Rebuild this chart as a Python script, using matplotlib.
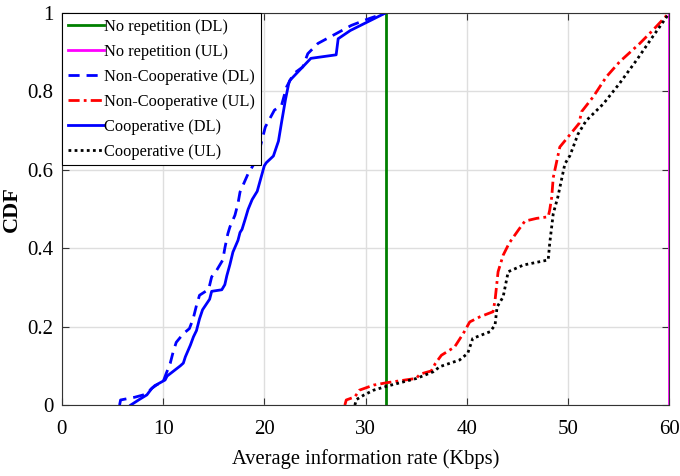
import numpy as np
import matplotlib
matplotlib.use("Agg")
import matplotlib.pyplot as plt

plt.rcParams['font.family'] = ['Liberation Serif', 'DejaVu Serif']

# no repetition: fixed rates
norep_dl_x = [32, 32]
norep_ul_x = [60, 60]
norep_y = [0, 1]

# non-cooperative DL
noncoop_dl_x = [5.7, 5.8, 6.2, 7.2, 8.2, 8.7, 9.2, 10.0, 10.3, 10.7, 11.0, 11.3, 12.0, 12.6,
                12.97, 13.3, 13.6, 14.5, 14.8, 15.3, 15.9, 16.1, 16.4, 16.6, 17.1, 17.4,
                17.6, 18.4, 19.2, 19.6, 20.1, 21.0, 21.7, 22.2, 22.9, 23.8, 24.3, 25.3,
                27.1, 28.6, 30.1, 32.0]
noncoop_dl_y = [0.0, 0.013, 0.015, 0.02, 0.027, 0.038, 0.05, 0.059, 0.08, 0.106, 0.136, 0.16,
                0.182, 0.195, 0.22, 0.254, 0.28, 0.295, 0.327, 0.344, 0.37, 0.40, 0.437,
                0.454, 0.484, 0.514, 0.543, 0.59, 0.624, 0.658, 0.709, 0.752, 0.764, 0.811,
                0.845, 0.862, 0.896, 0.922, 0.947, 0.968, 0.983, 1.0]

# cooperative DL
coop_dl_x = [6.8, 7.7, 8.4, 8.9, 9.5, 10.2, 10.4, 11.7, 12.0, 12.2, 12.7, 13.0, 13.3, 13.6,
             13.9, 14.6, 14.8, 15.8, 16.1, 16.3, 16.6, 16.9, 17.4, 17.6, 17.8, 18.1, 18.4,
             18.8, 19.3, 20.0, 20.2, 20.9, 21.4, 21.7, 22.1, 22.4, 22.5, 24.6, 27.1, 27.3,
             28.5, 32.0]
coop_dl_y = [0.0, 0.015, 0.026, 0.043, 0.054, 0.064, 0.074, 0.10, 0.107, 0.123, 0.153, 0.174,
             0.19, 0.22, 0.243, 0.27, 0.29, 0.294, 0.307, 0.33, 0.358, 0.39, 0.42, 0.44,
             0.448, 0.473, 0.499, 0.524, 0.545, 0.61, 0.618, 0.635, 0.673, 0.72, 0.78,
             0.818, 0.827, 0.884, 0.893, 0.934, 0.955, 1.0]

# non-cooperative UL
noncoop_ul_x = [27.96, 28.1, 28.95, 29.4, 30.8, 32.1, 35.0, 35.4, 36.5, 36.9, 37.5, 38.8,
                39.65, 40.3, 41.3, 42.6, 42.8, 43.1, 43.6, 44.2, 45.1, 45.75, 46.9, 48.05,
                48.2, 48.4, 48.55, 49.2, 49.9, 51.1, 51.35, 52.5, 53.8, 55.1, 57.1, 58.4, 60.0]
noncoop_ul_y = [0.0, 0.013, 0.021, 0.038, 0.051, 0.057, 0.068, 0.079, 0.087, 0.106, 0.127,
                0.148, 0.182, 0.212, 0.225, 0.238, 0.267, 0.34, 0.382, 0.413, 0.446, 0.469,
                0.476, 0.48, 0.497, 0.53, 0.58, 0.658, 0.68, 0.718, 0.748, 0.786, 0.837,
                0.875, 0.922, 0.956, 1.0]

# cooperative UL
coop_ul_x = [28.95, 29.1, 29.8, 30.8, 32.1, 35.05, 36.7, 37.35, 39.3, 40.1, 40.6, 42.3, 42.8,
             43.0, 43.6, 44.1, 45.6, 48.05, 48.2, 48.55, 49.0, 49.7, 50.2, 51.0, 51.8, 53.5,
             55.1, 56.8, 58.4, 59.9, 60.0]
coop_ul_y = [0.0, 0.014, 0.025, 0.038, 0.048, 0.068, 0.085, 0.098, 0.115, 0.132, 0.17, 0.187,
             0.204, 0.25, 0.276, 0.34, 0.357, 0.37, 0.412, 0.488, 0.53, 0.615, 0.636, 0.691,
             0.725, 0.768, 0.82, 0.88, 0.94, 0.995, 1.0]

fig = plt.figure(figsize=(6.8, 4.76), dpi=100)
ax = fig.add_axes([0.091, 0.149, 0.893, 0.824])

lw = 2
ax.plot(norep_dl_x, norep_y, color='green', lw=lw, label='No repetition (DL)')
ax.plot(norep_ul_x, norep_y, color='magenta', lw=lw, label='No repetition (UL)')
ax.plot(noncoop_dl_x, noncoop_dl_y, color='blue', lw=lw, ls=(0, (4, 2.5)),
        label='Non-Cooperative (DL)')
ax.plot(noncoop_ul_x, noncoop_ul_y, color='red', lw=lw, ls=(0, (4, 1.5, 1, 1.5)),
        label='Non-Cooperative (UL)')
ax.plot(coop_dl_x, coop_dl_y, color='blue', lw=lw, label='Cooperative (DL)')
ax.plot(coop_ul_x, coop_ul_y, color='black', lw=lw, ls=(0, (1, 1.2)),
        label='Cooperative (UL)')

ax.set_xlim(0, 60)
ax.set_ylim(0, 1)
ax.set_xticks(np.arange(0, 61, 10))
ax.set_yticks([0, 0.2, 0.4, 0.6, 0.8, 1])
ax.set_yticklabels(['0', '0.2', '0.4', '0.6', '0.8', '1'])
ax.grid(True, color='#dedede', lw=1)
ax.set_axisbelow(True)
ax.tick_params(direction='in', top=True, right=True, labelsize=15, length=5,
               color='#333333')
ax.tick_params(axis='x', pad=11)
ax.tick_params(axis='y', pad=6)
for s in ax.spines.values():
    s.set_color('#333333')

ax.set_xlabel('Average information rate (Kbps)', fontsize=14.8, labelpad=7)
ax.set_ylabel('CDF', fontsize=16, fontweight='bold', labelpad=4)

leg = ax.legend(loc='upper left', fontsize=11.8, frameon=True, fancybox=False,
                edgecolor='black', framealpha=1, borderaxespad=0, handlelength=2.2,
                handletextpad=0.05, labelspacing=0.55, borderpad=0.35)
leg.get_frame().set_linewidth(0.8)

fig.savefig('out.png', dpi=100)
